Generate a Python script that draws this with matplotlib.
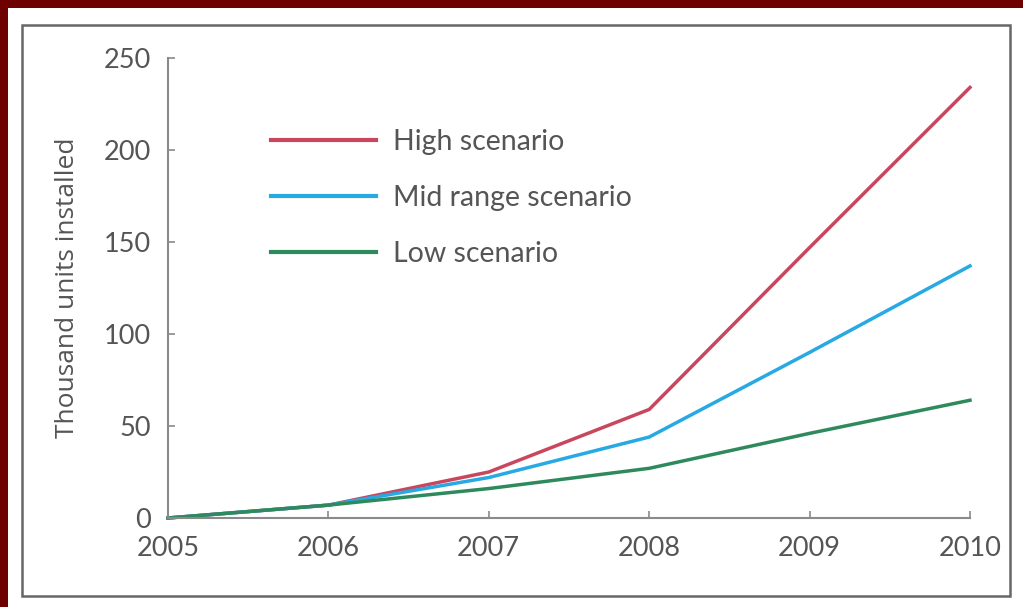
import matplotlib
matplotlib.use("Agg")
import matplotlib.pyplot as plt
from matplotlib.patches import Rectangle

# Installed-base projections (thousand units)
years = [2005, 2006, 2007, 2008, 2009, 2010]
high = [0, 7, 25, 59, 147, 234]
mid = [0, 7, 22, 44, 90, 137]
low = [0, 7, 16, 27, 46, 64]
series_names = ["High scenario", "Mid range scenario", "Low scenario"]
series_colors = ["#c9475e", "#27a9e3", "#2e8a5c"]
y_ticks = [0, 50, 100, 150, 200, 250]
y_label = "Thousand units installed"

text_color = "#555555"
axis_color = "#8a8a8a"

fig = plt.figure(figsize=(10.23, 6.07), dpi=100, facecolor="white")

# dark red strips along the top and left edges
fig.patches.append(Rectangle((0, 1 - 8 / 607), 1, 8 / 607, transform=fig.transFigure,
                             facecolor="#6e0000", edgecolor="none", zorder=0))
fig.patches.append(Rectangle((0, 0), 8 / 1023, 1, transform=fig.transFigure,
                             facecolor="#6e0000", edgecolor="none", zorder=0))
# framed panel
fig.patches.append(Rectangle((22 / 1023, 11 / 607), 988 / 1023, 571 / 607,
                             transform=fig.transFigure, facecolor="white",
                             edgecolor="#666666", linewidth=1.8, zorder=1))

ax = fig.add_axes([168 / 1023, 89 / 607, 802 / 1023, 460 / 607])
ax.set_zorder(5)
ax.set_facecolor("none")

for values, name, color in zip([high, mid, low], series_names, series_colors):
    ax.plot(years, values, color=color, linewidth=2.5, label=name,
            solid_joinstyle="miter", clip_on=False)

ax.set_xlim(years[0], years[-1])
ax.set_ylim(0, 250)
ax.set_xticks(years)
ax.set_yticks(y_ticks)

for side in ["top", "right"]:
    ax.spines[side].set_visible(False)
for side in ["left", "bottom"]:
    ax.spines[side].set_color(axis_color)
    ax.spines[side].set_linewidth(1.5)

ax.tick_params(axis="both", direction="in", length=5, width=1.2, color=axis_color,
               labelcolor=text_color, labelsize=19.5)
ax.tick_params(axis="x", pad=13)
ax.tick_params(axis="y", pad=12)
for lbl in ax.get_xticklabels() + ax.get_yticklabels():
    lbl.set_fontfamily("Lato")

ax.set_ylabel(y_label, fontsize=19, color=text_color, family="Open Sans", labelpad=17)

leg = ax.legend(loc="upper left", bbox_to_anchor=(0.128, 0.845), frameon=False,
                handlelength=3.7, handletextpad=0.6, labelspacing=1.05,
                borderaxespad=0, borderpad=0,
                prop={"family": "Lato", "size": 20.5})
for t in leg.get_texts():
    t.set_color(text_color)
for h in leg.get_lines():
    h.set_linewidth(3)

fig.savefig("out.png", dpi=100, facecolor="white")
